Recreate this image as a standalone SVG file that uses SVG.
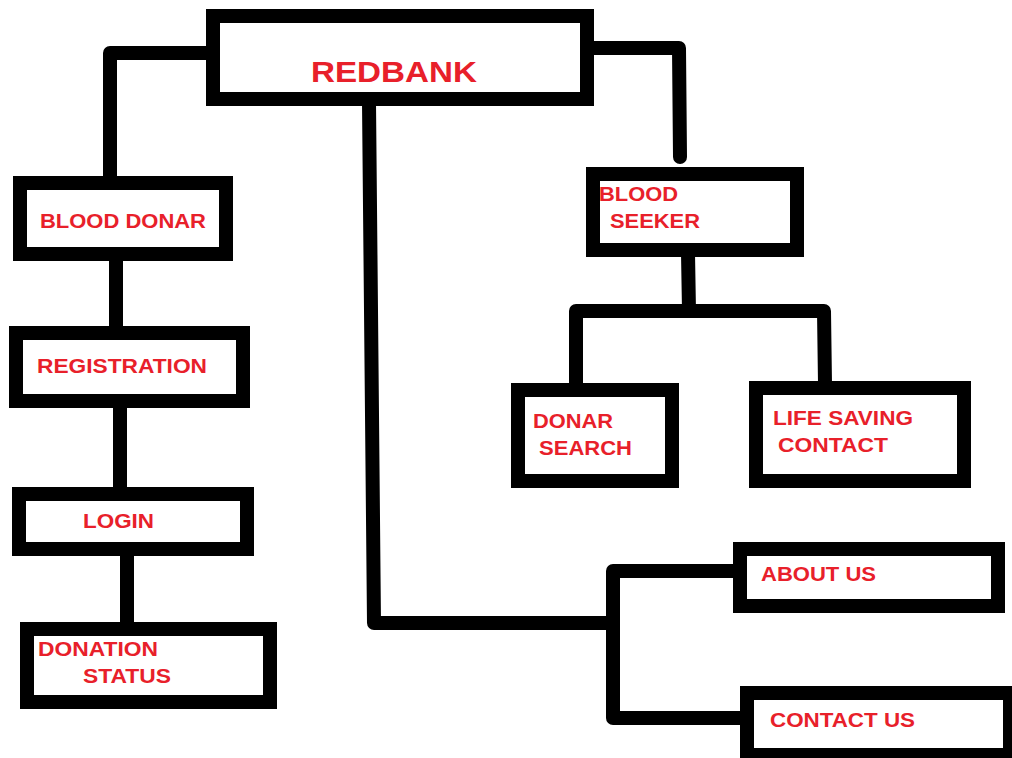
<svg xmlns="http://www.w3.org/2000/svg" width="1012" height="758" viewBox="0 0 1012 758">
<style>
.box{fill:#fff;stroke:#000;stroke-width:14}
.conn{fill:none;stroke:#000;stroke-width:14;stroke-linecap:round;stroke-linejoin:round}
.lbl{font-family:"Liberation Sans",Arial,sans-serif;font-weight:bold;font-size:21px;fill:#e8202a}
.title{font-size:29px}
</style>
<rect width="1012" height="758" fill="#fff"/>
<g id="connectors">
<path class="conn" d="M210 53 L110 53 L110 183"/>
<path class="conn" d="M590 48 L679 48 L680 157"/>
<path class="conn" d="M116 258 L116 330"/>
<path class="conn" d="M120 404 L120 490"/>
<path class="conn" d="M127 552 L127 626"/>
<path class="conn" d="M369 102 L374 623 L613 623"/>
<path class="conn" d="M740 571 L613 571 L613 718 L745 718"/>
<path class="conn" d="M688 253 L689 311"/>
<path class="conn" d="M576 386 L576 311 L824 311 L825 384"/>
</g>
<g id="redbank">
<rect class="box" x="213" y="16" width="374" height="83"/>
<text class="lbl title" x="311" y="82" textLength="166" lengthAdjust="spacingAndGlyphs">REDBANK</text>
</g>
<g id="blood-donar">
<rect class="box" x="20" y="183" width="206" height="71"/>
<text class="lbl" x="40" y="228" textLength="166" lengthAdjust="spacingAndGlyphs">BLOOD DONAR</text>
</g>
<g id="registration">
<rect class="box" x="16" y="333" width="227" height="68"/>
<text class="lbl" x="37" y="373" textLength="170" lengthAdjust="spacingAndGlyphs">REGISTRATION</text>
</g>
<g id="login">
<rect class="box" x="19" y="494" width="228" height="55"/>
<text class="lbl" x="83" y="528" textLength="71" lengthAdjust="spacingAndGlyphs">LOGIN</text>
</g>
<g id="donation-status">
<rect class="box" x="27" y="629" width="243" height="73"/>
<text class="lbl" x="38" y="656" textLength="120" lengthAdjust="spacingAndGlyphs">DONATION</text>
<text class="lbl" x="83" y="683" textLength="88" lengthAdjust="spacingAndGlyphs">STATUS</text>
</g>
<g id="blood-seeker">
<rect class="box" x="593" y="174" width="204" height="76"/>
<text class="lbl" x="599" y="201" textLength="79" lengthAdjust="spacingAndGlyphs">BLOOD</text>
<text class="lbl" x="610" y="228" textLength="90" lengthAdjust="spacingAndGlyphs">SEEKER</text>
</g>
<g id="donar-search">
<rect class="box" x="518" y="390" width="154" height="91"/>
<text class="lbl" x="533" y="428" textLength="80" lengthAdjust="spacingAndGlyphs">DONAR</text>
<text class="lbl" x="539" y="455" textLength="93" lengthAdjust="spacingAndGlyphs">SEARCH</text>
</g>
<g id="life-saving-contact">
<rect class="box" x="756" y="388" width="208" height="93"/>
<text class="lbl" x="773" y="425" textLength="140" lengthAdjust="spacingAndGlyphs">LIFE SAVING</text>
<text class="lbl" x="778" y="452" textLength="110" lengthAdjust="spacingAndGlyphs">CONTACT</text>
</g>
<g id="about-us">
<rect class="box" x="740" y="549" width="258" height="57"/>
<text class="lbl" x="761" y="581" textLength="115" lengthAdjust="spacingAndGlyphs">ABOUT US</text>
</g>
<g id="contact-us">
<rect class="box" x="747" y="693" width="263" height="62"/>
<text class="lbl" x="770" y="727" textLength="145" lengthAdjust="spacingAndGlyphs">CONTACT US</text>
</g>
</svg>
